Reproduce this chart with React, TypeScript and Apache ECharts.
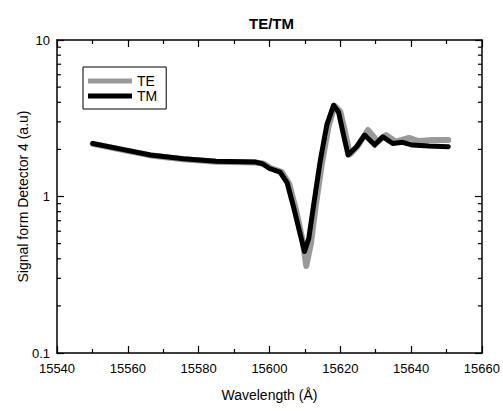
import React, { useEffect, useRef } from "react";
import * as echarts from "echarts";

const TE_WAVELENGTHS = [15550.1, 15557, 15566.4, 15575.7, 15584.9, 15596.1, 15598.4, 15600.3, 15603.5, 15605.6, 15607.5, 15609.3, 15610.4, 15611.7, 15613.0, 15614.8, 15616.7, 15618.4, 15620.0, 15621.4, 15622.7, 15624.9, 15627.8, 15630.6, 15632.9, 15635.7, 15639.4, 15642.1, 15646.0, 15650.5];
const TE_VALUES = [2.17, 2.02, 1.83, 1.73, 1.67, 1.65, 1.62, 1.52, 1.43, 1.2, 0.82, 0.53, 0.36, 0.5, 0.85, 1.62, 2.8, 3.8, 3.5, 2.55, 1.86, 2.1, 2.66, 2.24, 2.47, 2.24, 2.37, 2.26, 2.3, 2.3];

const TM_WAVELENGTHS = [15550.1, 15557, 15566.4, 15575.7, 15584.9, 15596.1, 15598.0, 15600.0, 15603.0, 15605.0, 15606.9, 15608.7, 15609.9, 15611.1, 15612.5, 15614.3, 15616.2, 15618.1, 15619.5, 15620.9, 15622.2, 15624.6, 15626.9, 15629.7, 15632.0, 15634.8, 15637.6, 15640.4, 15645.0, 15650.5];
const TM_VALUES = [2.18, 2.03, 1.84, 1.74, 1.68, 1.66, 1.62, 1.51, 1.43, 1.22, 0.84, 0.57, 0.445, 0.54, 0.89, 1.67, 2.87, 3.83, 3.47, 2.48, 1.84, 2.08, 2.47, 2.13, 2.41, 2.18, 2.22, 2.13, 2.1, 2.08];

const X_MIN = 15540;
const X_MAX = 15660;
const X_INTERVAL = 20;
const Y_MIN = 0.1;
const Y_MAX = 10;
const LOG_MINOR_TICKS = [0.2, 0.3, 0.4, 0.5, 0.6, 0.7, 0.8, 0.9, 2, 3, 4, 5, 6, 7, 8, 9];

const FONT = "Liberation Sans";

export default function App() {
  const ref = useRef<HTMLDivElement>(null);

  useEffect(() => {
    if (!ref.current) return;
    const chart = echarts.init(ref.current, undefined, { renderer: "svg" });

    const axisLine = { show: true, lineStyle: { color: "#000", width: 1.5 } };
    const tick = { show: true, inside: true, length: 7, lineStyle: { color: "#000", width: 1.2 } };
    const minor = { show: true, splitNumber: 2, length: 4, lineStyle: { color: "#000", width: 1.2 } };
    const teData = TE_WAVELENGTHS.map((w, i) => [w, TE_VALUES[i]]);
    const tmData = TM_WAVELENGTHS.map((w, i) => [w, TM_VALUES[i]]);

    chart.setOption({
      animation: false,
      backgroundColor: "#fff",
      title: {
        text: "TE/TM",
        left: 244,
        top: 11,
        textStyle: { fontFamily: FONT, fontSize: 15, fontWeight: "bold", color: "#000" },
      },
      legend: {
        data: [
          { name: "TE", icon: "rect" },
          { name: "TM", icon: "rect" },
        ],
        orient: "vertical",
        left: 83,
        top: 67,
        itemWidth: 44,
        itemHeight: 5,
        itemGap: 1,
        padding: [7, 9, 6, 5],
        borderColor: "#000",
        borderWidth: 1,
        textStyle: { fontFamily: FONT, fontSize: 14, lineHeight: 14, color: "#000" },
      },
      grid: { left: 57, right: 16, top: 40, bottom: 58 },
      xAxis: [
        {
          type: "value",
          min: X_MIN,
          max: X_MAX,
          interval: X_INTERVAL,
          name: "Wavelength (Å)",
          nameLocation: "middle",
          nameGap: 35,
          nameMoveOverlap: false,
          nameTextStyle: { fontFamily: FONT, fontSize: 14, color: "#000" },
          axisLine,
          axisTick: tick,
          minorTick: minor,
          axisLabel: { fontFamily: FONT, fontSize: 13, color: "#000", margin: 9, formatter: (v: number) => String(v) },
          splitLine: { show: false },
        },
        {
          type: "value",
          position: "top",
          min: X_MIN,
          max: X_MAX,
          interval: X_INTERVAL,
          axisLine,
          axisTick: tick,
          minorTick: minor,
          axisLabel: { show: false },
          splitLine: { show: false },
        },
      ],
      yAxis: [
        {
          type: "log",
          min: Y_MIN,
          max: Y_MAX,
          logBase: 10,
          name: "Signal form Detector 4 (a.u)",
          nameLocation: "middle",
          nameGap: 27,
          nameMoveOverlap: false,
          nameTextStyle: { fontFamily: FONT, fontSize: 14, color: "#000" },
          axisLine,
          axisTick: tick,
          axisLabel: { fontFamily: FONT, fontSize: 13, color: "#000", margin: 7 },
          splitLine: { show: false },
        },
        {
          type: "log",
          position: "right",
          min: Y_MIN,
          max: Y_MAX,
          logBase: 10,
          axisLine,
          axisTick: tick,
          axisLabel: { show: false },
          splitLine: { show: false },
        },
      ],
      series: [
        {
          name: "TE",
          type: "line",
          xAxisIndex: 0,
          yAxisIndex: 0,
          data: teData,
          symbol: "none",
          color: "#9a9a9a",
          lineStyle: { color: "#9a9a9a", width: 6, join: "round", cap: "round" },
          z: 2,
        },
        {
          name: "TM",
          type: "line",
          xAxisIndex: 0,
          yAxisIndex: 0,
          data: tmData,
          symbol: "none",
          color: "#000",
          lineStyle: { color: "#000", width: 5, join: "round", cap: "round" },
          z: 3,
        },
        {
          name: "logMinorTicks",
          type: "custom",
          xAxisIndex: 0,
          yAxisIndex: 0,
          silent: true,
          clip: false,
          data: LOG_MINOR_TICKS.map((v) => [X_MIN, v]),
          renderItem: (params: any, api: any) => {
            const p = api.coord([api.value(0), api.value(1)]);
            const cs = params.coordSys;
            const style = { stroke: "#000", lineWidth: 1.2 };
            return {
              type: "group",
              children: [
                { type: "line", shape: { x1: cs.x, y1: p[1], x2: cs.x + 4, y2: p[1] }, style },
                { type: "line", shape: { x1: cs.x + cs.width - 4, y1: p[1], x2: cs.x + cs.width, y2: p[1] }, style },
              ],
            };
          },
        },
      ],
    });

    return () => chart.dispose();
  }, []);

  return <div ref={ref} style={{ width: 503, height: 411, position: "absolute", left: 0, top: 0 }} />;
}
